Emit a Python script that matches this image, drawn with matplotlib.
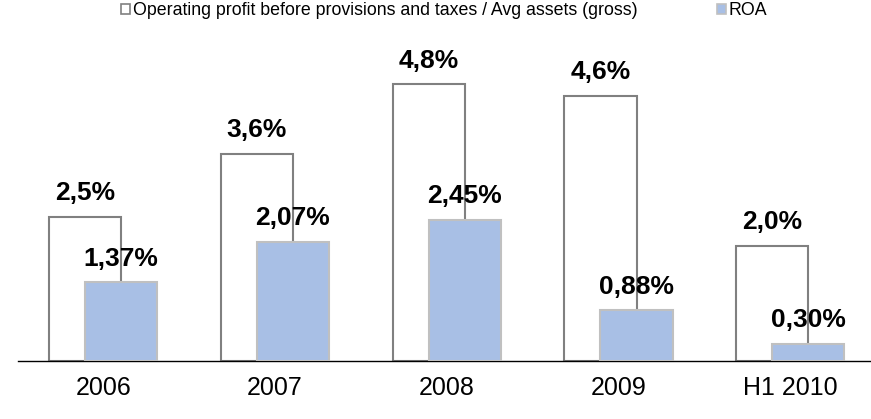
import matplotlib
matplotlib.use('Agg')
import matplotlib.pyplot as plt
import numpy as np
from matplotlib.patches import Patch

plt.rcParams['font.family'] = ['Liberation Sans', 'DejaVu Sans']

categories = ['2006', '2007', '2008', '2009', 'H1 2010']
op_profit = [2.5, 3.6, 4.8, 4.6, 2.0]
roa = [1.37, 2.07, 2.45, 0.88, 0.30]
op_labels = ['2,5%', '3,6%', '4,8%', '4,6%', '2,0%']
roa_labels = ['1,37%', '2,07%', '2,45%', '0,88%', '0,30%']

blue = '#A8BFE5'

fig = plt.figure(figsize=(8.71, 4.19), dpi=100)
ax = fig.add_axes([0.021, 0.138, 0.979, 0.757])

x = np.arange(len(categories))
w = 0.42
off = 0.105

# white bars behind, blue bars overlapping in front
bars1 = ax.bar(x - off, op_profit, w, color='white', edgecolor='#808080', linewidth=1.5, zorder=2)
bars2 = ax.bar(x + off, roa, w, color=blue, edgecolor='#C0C0C0', linewidth=1.5, zorder=3)

for b, lab in zip(bars1, op_labels):
    ax.annotate(lab, (b.get_x() + b.get_width() / 2, b.get_height()),
                xytext=(0, 17), textcoords='offset points', ha='center', va='center',
                fontsize=19, fontweight='bold', zorder=5)
for b, lab in zip(bars2, roa_labels):
    ax.annotate(lab, (b.get_x() + b.get_width() / 2, b.get_height()),
                xytext=(0, 17), textcoords='offset points', ha='center', va='center',
                fontsize=19, fontweight='bold', zorder=5)

ax.set_xlim(-0.494, 4.47)
ax.set_ylim(0, 5.5)
ax.set_xticks(x)
ax.set_xticklabels(categories, fontsize=18)
ax.tick_params(axis='x', length=0, pad=10.5)
ax.set_yticks([])
for s in ['top', 'right', 'left']:
    ax.spines[s].set_visible(False)
ax.spines['bottom'].set_linewidth(1.0)
ax.spines['bottom'].set_color('black')

handles = [Patch(facecolor='white', edgecolor='#808080', linewidth=1.2),
           Patch(facecolor=blue, edgecolor='#C0C0C0', linewidth=1.2)]
fig.legend(handles, ['Operating profit before provisions and taxes / Avg assets (gross)', 'ROA'],
           loc='center', bbox_to_anchor=(0.51, 0.974), ncol=2, frameon=False,
           fontsize=12.8, handlelength=0.5, handleheight=0.5, handletextpad=0.15,
           columnspacing=4.5, borderaxespad=0)

fig.savefig('out.png', dpi=100)
